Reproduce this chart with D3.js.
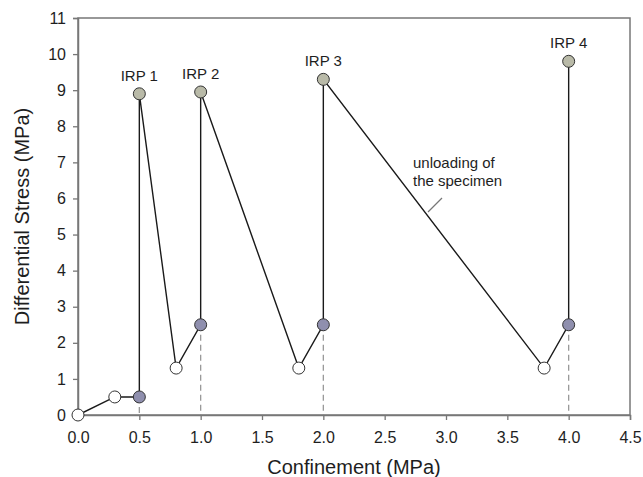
<!DOCTYPE html>
<html>
<head>
<meta charset="utf-8">
<script src="https://cdn.jsdelivr.net/npm/d3@7"></script>
<style>
  body { margin: 0; background: #fff; }
  text { font-family: "Liberation Sans", Arial, sans-serif; fill: #1e1e1e; }
</style>
</head>
<body>
<div id="chart"></div>
<script>
const width = 643;
const height = 477;
const margin = { top: 18, right: 13, bottom: 62, left: 78 };

// loading path, in order
const confinement = [0, 0.3, 0.5, 0.5, 0.8, 1.0, 1.0, 1.8, 2.0, 2.0, 3.8, 4.0, 4.0];
const stress = [0, 0.5, 0.5, 8.9, 1.3, 2.5, 8.95, 1.3, 2.5, 9.3, 1.3, 2.5, 9.8];
// point kind: 0 = open, 1 = loading start, 2 = IRP peak
const kind = [0, 0, 1, 2, 0, 1, 2, 0, 1, 2, 0, 1, 2];
const irpLabels = ["IRP 1", "IRP 2", "IRP 3", "IRP 4"];
const xTicks = [0, 0.5, 1, 1.5, 2, 2.5, 3, 3.5, 4, 4.5];
const yTicks = d3.range(0, 12);

const fills = ["#ffffff", "#8f8fae", "#b9baa8"];

const svg = d3.select("#chart")
  .append("svg")
  .attr("width", width)
  .attr("height", height);

const x = d3.scaleLinear().domain([0, 4.5]).range([margin.left, width - margin.right]);
const y = d3.scaleLinear().domain([0, 11]).range([height - margin.bottom, margin.top]);

const pts = confinement.map((c, i) => ({ x: c, y: stress[i], k: kind[i] }));

// dashed drop lines from loading-start points
svg.append("g")
  .selectAll("line")
  .data(pts.filter(d => d.k === 1))
  .join("line")
  .attr("x1", d => x(d.x))
  .attr("x2", d => x(d.x))
  .attr("y1", d => y(d.y))
  .attr("y2", y(0))
  .attr("stroke", "#999")
  .attr("stroke-width", 1.3)
  .attr("stroke-dasharray", "6,4");

// frame
svg.append("rect")
  .attr("x", margin.left)
  .attr("y", margin.top)
  .attr("width", width - margin.left - margin.right)
  .attr("height", height - margin.top - margin.bottom)
  .attr("fill", "none")
  .attr("stroke", "#777")
  .attr("stroke-width", 1.5);

const xAxis = svg.append("g")
  .attr("transform", `translate(0,${y(0)})`)
  .call(d3.axisBottom(x).tickValues(xTicks).tickFormat(d3.format(".1f")).tickSize(5).tickPadding(12));
const yAxis = svg.append("g")
  .attr("transform", `translate(${margin.left},0)`)
  .call(d3.axisLeft(y).tickValues(yTicks).tickSize(5).tickPadding(7));

[xAxis, yAxis].forEach(a => {
  a.select(".domain").attr("stroke", "#777").attr("stroke-width", 1.5);
  a.selectAll(".tick line").attr("stroke", "#777").attr("stroke-width", 1.3);
  a.selectAll(".tick text")
    .attr("font-size", 16)
    .attr("fill", "#1e1e1e")
    .style("font-family", "Liberation Sans, Arial, sans-serif");
});

// path
svg.append("path")
  .datum(pts)
  .attr("fill", "none")
  .attr("stroke", "#1a1a1a")
  .attr("stroke-width", 1.4)
  .attr("d", d3.line().x(d => x(d.x)).y(d => y(d.y)));

// markers
svg.append("g")
  .selectAll("circle")
  .data(pts)
  .join("circle")
  .attr("cx", d => x(d.x))
  .attr("cy", d => y(d.y))
  .attr("r", 6)
  .attr("fill", d => fills[d.k])
  .attr("stroke", "#333")
  .attr("stroke-width", 1);

// IRP labels
svg.append("g")
  .selectAll("text")
  .data(pts.filter(d => d.k === 2))
  .join("text")
  .attr("x", d => x(d.x))
  .attr("y", d => y(d.y) - 13)
  .attr("text-anchor", "middle")
  .attr("font-size", 15)
  .text((d, i) => irpLabels[i]);

// annotation
const note = svg.append("text")
  .attr("x", 413)
  .attr("font-size", 15);
note.append("tspan").attr("x", 413).attr("y", 168).text("unloading of");
note.append("tspan").attr("x", 413).attr("y", 186).text("the specimen");
svg.append("line")
  .attr("x1", 442).attr("y1", 198)
  .attr("x2", 428).attr("y2", 212)
  .attr("stroke", "#777")
  .attr("stroke-width", 1.2);

// axis titles
svg.append("text")
  .attr("x", (margin.left + width - margin.right) / 2)
  .attr("y", 474)
  .attr("text-anchor", "middle")
  .attr("font-size", 20)
  .text("Confinement (MPa)");
svg.append("text")
  .attr("transform", `translate(29,${(margin.top + height - margin.bottom) / 2}) rotate(-90)`)
  .attr("text-anchor", "middle")
  .attr("font-size", 20)
  .text("Differential Stress (MPa)");
</script>
</body>
</html>
